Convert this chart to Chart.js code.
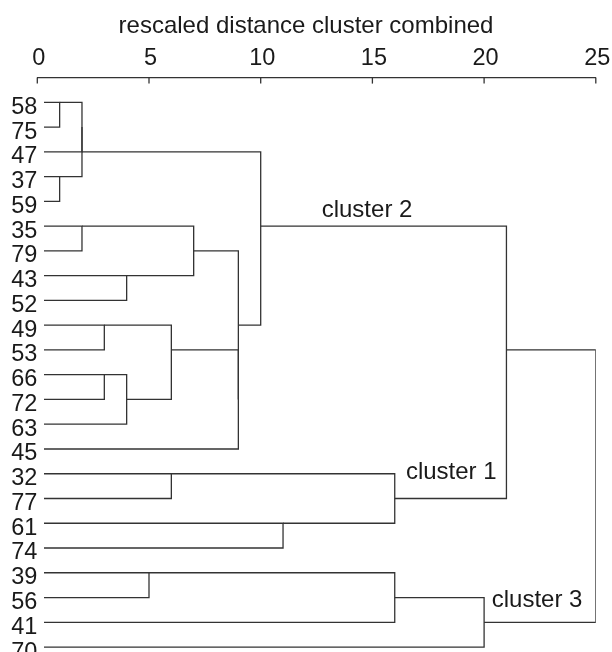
<!DOCTYPE html>
<html lang="en">
<head>
  <meta charset="UTF-8">
  <title>Dendrogram</title>
  <style>
    html, body { margin: 0; padding: 0; background: #fff; }
    #wrap { width: 612px; height: 652px; }
  </style>
</head>
<body>
<div id="wrap"><canvas id="dendro" width="612" height="652"></canvas></div>

<script src="https://cdn.jsdelivr.net/npm/chart.js"></script>
<script>
  // leaves, top to bottom
  const leaves = ['58', '75', '47', '37', '59', '35', '79', '43', '52', '49', '53', '66',
                  '72', '63', '45', '32', '77', '61', '74', '39', '56', '41', '70'];

  // merges: first child, second child, rescaled distance
  // a child is a leaf label (string) or the index of an earlier merge (number)
  const mergeA = ['58', '37', 0, 2, '35', '43', 4, '49', '66', 8, 7, 10, 6, 3, '32', '61', 14, 13, '39', 18, 19, 17];
  const mergeB = ['75', '59', '47', 1, '79', '52', 5, '53', '72', '63', 9, '45', 11, 12, '77', '74', 15, 16, '56', '41', '70', 20];
  const mergeDist = [1, 1, 2, 2, 2, 4, 7, 3, 3, 4, 6, 9, 9, 10, 6, 11, 16, 21, 5, 16, 20, 25];

  const xTicks = [0, 5, 10, 15, 20, 25];

  // cluster names and where they sit (distance, leaf row of the baseline)
  const clusterNames = ['cluster 2', 'cluster 1', 'cluster 3'];
  const clusterDist = [12.73, 16.5, 20.34];
  const clusterRow = [4.62, 15.22, 20.37];

  const FONT = "'Liberation Sans', Arial, Helvetica, sans-serif";
  const LINE = '#333';
  const TEXT = '#1a1a1a';
  const LEAF_START = 0.3;  // leaf lines start a bit right of 0

  // lay out the tree: each merge sits on the row half way between its children (rounded down)
  const mergeRow = [];
  function node(c) {
    if (typeof c === 'string') return { row: leaves.indexOf(c), dist: LEAF_START };
    return { row: mergeRow[c], dist: mergeDist[c] };
  }

  const datasets = mergeDist.map((d, i) => {
    const a = node(mergeA[i]);
    const b = node(mergeB[i]);
    mergeRow[i] = Math.floor((a.row + b.row) / 2);
    return {
      data: [
        { x: a.dist, y: a.row },
        { x: d, y: a.row },
        { x: d, y: b.row },
        { x: b.dist, y: b.row }
      ],
      showLine: true,
      pointRadius: 0,
      borderColor: LINE,
      borderWidth: 1.3,
      tension: 0,
      fill: false
    };
  });

  // inside tick marks on the top axis + cluster names
  const extras = {
    id: 'extras',
    afterDraw(chart) {
      const ctx = chart.ctx;
      const xs = chart.scales.x;
      const ys = chart.scales.y;
      const top = chart.chartArea.top;
      ctx.save();
      ctx.strokeStyle = LINE;
      ctx.lineWidth = 1.3;
      xTicks.forEach(v => {
        const px = xs.getPixelForValue(v);
        ctx.beginPath();
        ctx.moveTo(px, top);
        ctx.lineTo(px, top + 6);
        ctx.stroke();
      });
      ctx.fillStyle = TEXT;
      ctx.font = '24px ' + FONT;
      ctx.textAlign = 'left';
      ctx.textBaseline = 'alphabetic';
      clusterNames.forEach((t, i) => {
        ctx.fillText(t, xs.getPixelForValue(clusterDist[i]), ys.getPixelForValue(clusterRow[i]));
      });
      ctx.restore();
    }
  };

  new Chart(document.getElementById('dendro'), {
    type: 'scatter',
    data: { datasets: datasets },
    plugins: [extras],
    options: {
      responsive: false,
      animation: false,
      devicePixelRatio: 1,
      layout: { padding: 0 },
      plugins: {
        legend: { display: false },
        tooltip: { enabled: false },
        title: {
          display: true,
          text: 'rescaled distance cluster combined',
          color: TEXT,
          font: { family: FONT, size: 24, weight: 'normal' },
          padding: { top: 11.5, bottom: 2.3 }
        }
      },
      scales: {
        x: {
          type: 'linear',
          position: 'top',
          min: 0,
          max: 25,
          afterBuildTicks: axis => { axis.ticks = xTicks.map(v => ({ value: v })); },
          afterFit: axis => {
            axis.height = 35;
            axis.paddingLeft = 0;
            axis.paddingRight = 16.2;
          },
          ticks: {
            color: TEXT,
            font: { family: FONT, size: 23.5 },
            padding: 4.5,
            labelOffset: 1.5,
            maxRotation: 0,
            autoSkip: false
          },
          grid: { display: false, drawTicks: false },
          border: { display: true, color: LINE, width: 1.3 }
        },
        y: {
          type: 'linear',
          reverse: true,
          min: -1,
          max: 22.2,
          afterBuildTicks: axis => { axis.ticks = leaves.map((_, i) => ({ value: i })); },
          afterFit: axis => {
            axis.width = 37.3;
            axis.paddingTop = 0;
            axis.paddingBottom = 0;
          },
          ticks: {
            color: TEXT,
            font: { family: FONT, size: 23.5 },
            padding: 0,
            labelOffset: 5,
            autoSkip: false,
            callback: v => leaves[v] ?? ''
          },
          grid: { display: false, drawTicks: false },
          border: { display: false }
        }
      }
    }
  });
</script>
</body>
</html>
